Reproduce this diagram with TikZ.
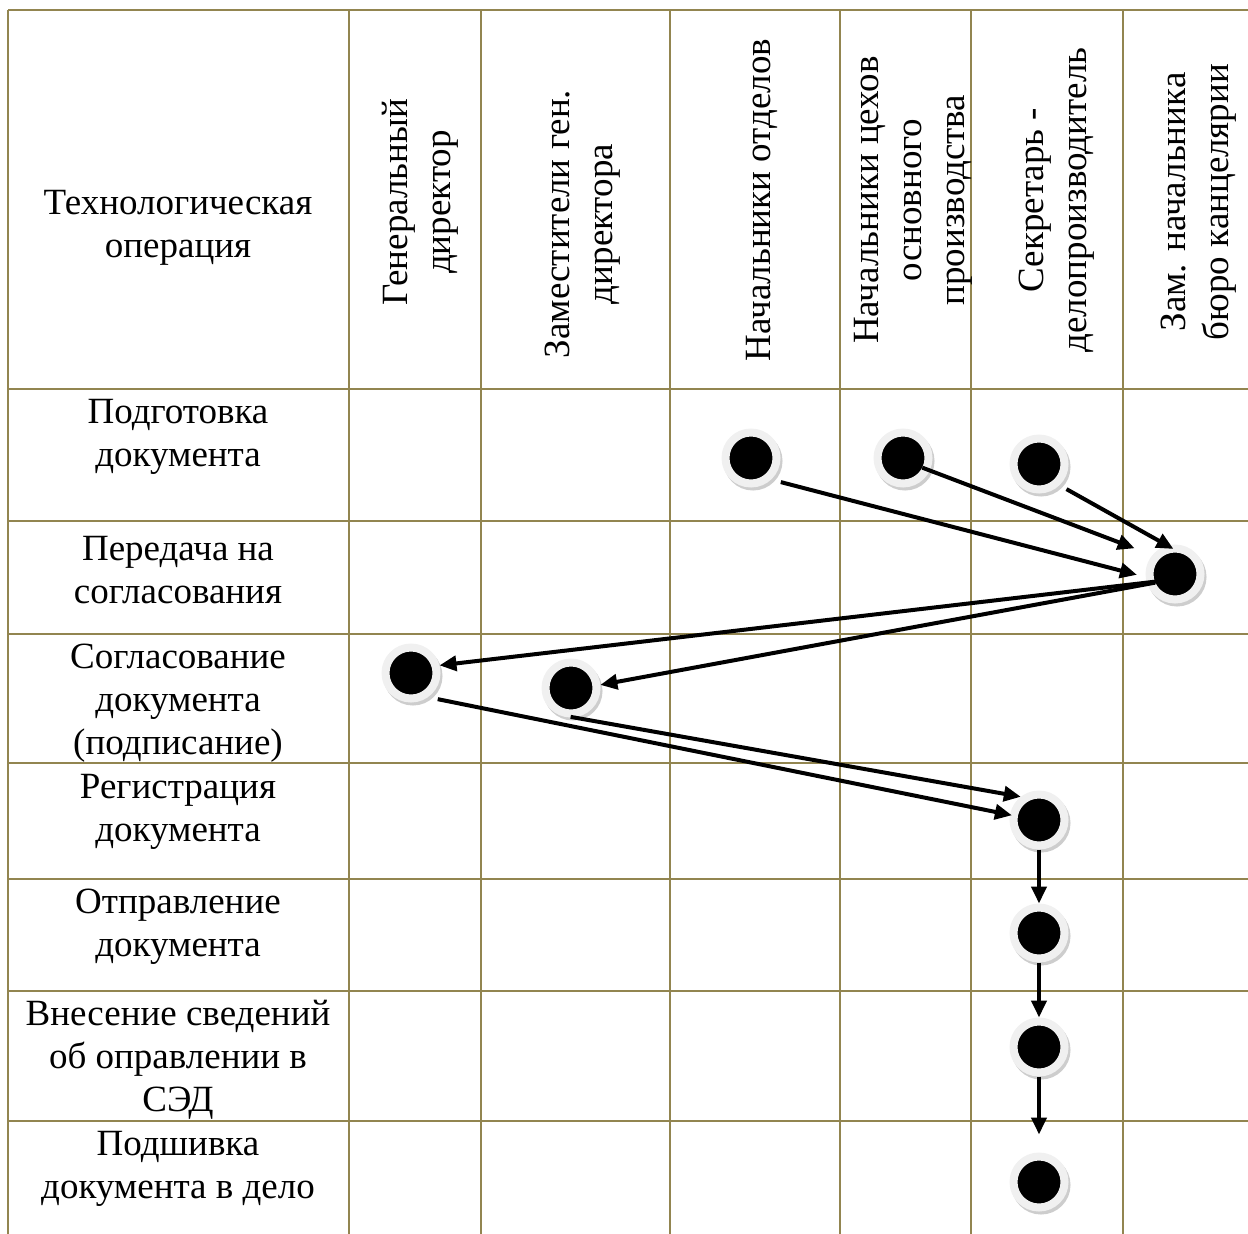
\documentclass[tikz,border=0pt]{standalone}
\usepackage{fontspec}
\setmainfont{Liberation Serif}
\usetikzlibrary{arrows.meta}

\definecolor{gridc}{RGB}{146,133,80}
\definecolor{haloc}{RGB}{240,240,240}
\definecolor{shadec}{RGB}{205,205,205}

\begin{document}
\begin{tikzpicture}[x=1pt, y=-1pt,
        gridline/.style={draw=gridc, line width=2.2pt},
        cell/.style={align=center, inner sep=0pt, font=\fontsize{37}{43}\selectfont},
        rolecell/.style={cell, rotate=90},
        dotnode/.style={circle, minimum size=51pt, inner sep=0pt, fill=black, draw=haloc, line width=8pt,
            preaction={draw=shadec, fill=shadec, line width=8pt, transform canvas={shift={(2pt,-3pt)}}}},
        arrow/.style={-{Triangle[length=17pt, width=15pt]}, line width=4pt}
    ]
        \useasboundingbox (0,0) rectangle (1248,1234);

        % Table grid
        \foreach \x in {8,349,481,670,840,971,1123}
            \draw[gridline] (\x,10) -- (\x,1234);
        \foreach \y in {10,389,521,634,763,879,991,1121}
            \draw[gridline] (8,\y) -- (1248,\y);

        % Header
        \node[cell] (hdrop) at (178,228) {Технологическая\\операция};
        \node[rolecell] (gendir) at (420,202) {Генеральный\\директор};
        \node[rolecell] (zamgen) at (583,224) {Заместители ген.\\директора};
        \node[rolecell] (nachotd) at (762,200) {Начальники отделов};
        \node[rolecell] (nachceh) at (913,200) {Начальники цехов\\основного\\производства};
        \node[rolecell] (secr) at (1057,200) {Секретарь -\\делопроизводитель};
        \node[rolecell] (zamkanc) at (1199,202) {Зам. начальника\\бюро канцелярии};

        % Operations
        \node[cell] (oprep) at (178,437) {Подготовка\\документа};
        \node[cell] (opsend) at (178,570) {Передача на\\согласования};
        \node[cell] (opsign) at (178,703) {Согласование\\документа\\(подписание)};
        \node[cell] (opreg) at (178,812) {Регистрация\\документа};
        \node[cell] (opmail) at (178,927) {Отправление\\документа};
        \node[cell] (opsed) at (178,1060) {Внесение сведений\\об оправлении в\\СЭД};
        \node[cell] (opfile) at (178,1169) {Подшивка\\документа в дело};

        % Points
        \node[dotnode] (prepA) at (751,458) {};
        \node[dotnode] (prepB) at (903,458) {};
        \node[dotnode] (prepC) at (1039,464) {};
        \node[dotnode] (pass) at (1175,574) {};
        \node[dotnode] (signA) at (411,673) {};
        \node[dotnode] (signB) at (571,688) {};
        \node[dotnode] (reg) at (1039,820) {};
        \node[dotnode] (mail) at (1039,933) {};
        \node[dotnode] (sed) at (1039,1047) {};
        \node[dotnode] (file) at (1039,1182) {};

        % Flow
        \draw[arrow, shorten <=10pt, shorten >=9pt] (prepA.-47) -- (pass.186);
        \draw[arrow, shorten <=-8pt, shorten >=19pt] (prepB.-25) -- (pass.140);
        \draw[arrow, shorten <=8pt, shorten >=-7pt] (prepC.-46) -- (pass.105);
        \draw[arrow, shorten <=-9pt] (pass.197) -- (signA.15);
        \draw[arrow, shorten <=-8pt] (pass.200) -- (signB.6);
        \draw[arrow, shorten <=10pt, shorten >=-2pt] (signA.-55) -- (reg.170);
        \draw[arrow, shorten <=-3pt] (signB.-85) -- (reg.128);
        \draw[arrow] (reg.-90) -- (mail.90);
        \draw[arrow] (mail.-90) -- (sed.90);
        \draw[arrow, shorten >=18pt] (sed.-90) -- (file.90);

    \end{tikzpicture}
\end{document}
